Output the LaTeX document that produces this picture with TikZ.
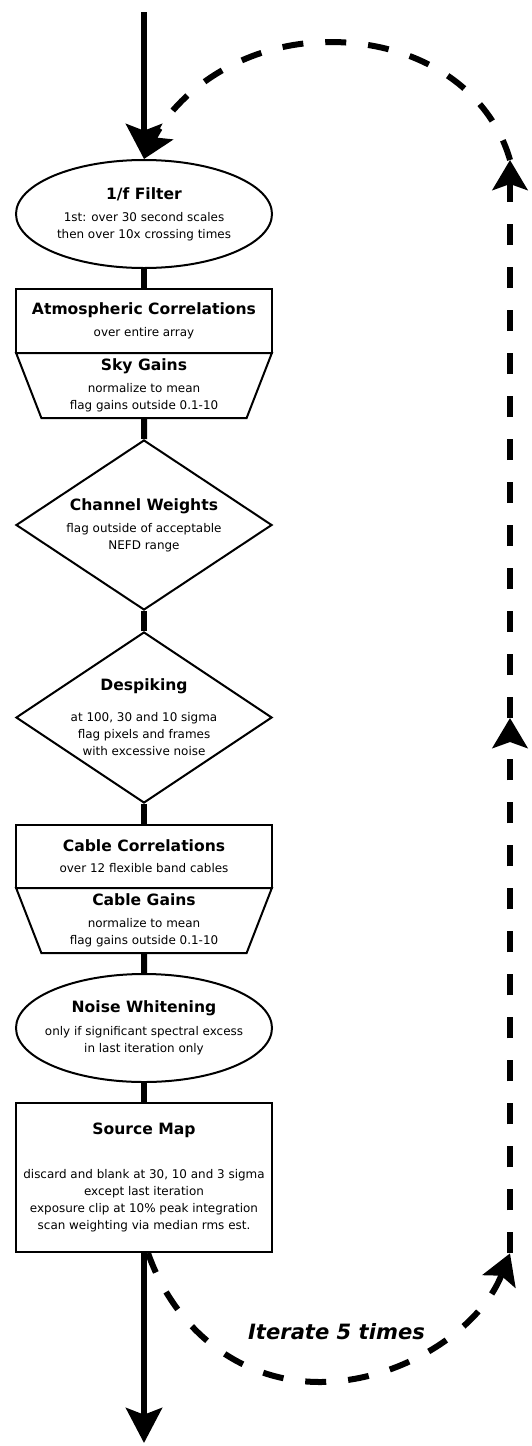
\documentclass[tikz,border=0pt]{standalone}
\usepackage{fontspec}
\setmainfont{DejaVu Sans}
\usetikzlibrary{shapes.geometric,arrows.meta}
\newcommand{\steptitle}[1]{{\fontsize{13.3pt}{14.5pt}\selectfont\bfseries #1}}

\tikzset{
  every node/.style={font=\fontsize{10.2pt}{14.5pt}\selectfont, align=center},
  procbox/.style={draw, line width=0.06cm, minimum width=7.68cm, inner sep=2pt},
  procoval/.style={procbox, ellipse, inner sep=-12pt, minimum height=3.24cm},
  procgain/.style={procbox, trapezium, trapezium left angle=72, trapezium right angle=72,
    shape border rotate=180, trapezium stretches=true, minimum height=1.95cm},
  procdiamond/.style={procbox, diamond, shape aspect=1.5, inner sep=-6pt},
  spine/.style={line width=0.18cm},
  iterline/.style={line width=0.18cm, dash pattern=on 0.63cm off 0.66cm},
  bigtip/.style={-{Stealth[length=1.05cm,width=1.08cm,inset=0.2cm]}},
  looptip/.style={-{Stealth[length=0.9cm,width=1.05cm,inset=0.18cm]}}
}

\begin{document}
\begin{tikzpicture}
  \useasboundingbox (0,0) rectangle (15.93,-43.38);

  \coordinate (in)  at (4.32,-0.36);
  \coordinate (out) at (4.32,-43.29);

  \node[procoval] (filter) at (4.32,-6.42)
    {\steptitle{1/f Filter}\\[4.3pt] 1st: over 30 second scales\\ then over 10x crossing times};
  \node[procbox, minimum height=1.92cm] (atmo) at (4.32,-9.63)
    {\steptitle{Atmospheric Correlations}\\[4.3pt] over entire array};
  \node[procgain] (sky) at (4.32,-11.565)
    {\steptitle{Sky Gains}\\[4.3pt] normalize to mean\\ flag gains outside 0.1-10};
  \node[procdiamond, minimum height=5.1cm] (weights) at (4.32,-15.75)
    {\steptitle{Channel Weights}\\[4.3pt] flag outside of acceptable\\ NEFD range};
  \node[procdiamond, minimum height=5.13cm] (despike) at (4.32,-21.525)
    {\steptitle{Despiking}\\[12pt] at 100, 30 and 10 sigma\\ flag pixels and frames\\ with excessive noise};
  \node[procbox, minimum height=1.89cm] (cable) at (4.32,-25.695)
    {\steptitle{Cable Correlations}\\[3.5pt] over 12 flexible band cables};
  \node[procgain] (cablegain) at (4.32,-27.615)
    {\steptitle{Cable Gains}\\[4.3pt] normalize to mean\\ flag gains outside 0.1-10};
  \node[procoval] (whiten) at (4.32,-30.84)
    {\steptitle{Noise Whitening}\\[4.8pt] only if significant spectral excess\\ in last iteration only};
  \node[procbox, minimum height=4.47cm] (srcmap) at (4.32,-35.325)
    {\steptitle{Source Map}\\[23pt] discard and blank at 30, 10 and 3 sigma\\ except last iteration\\
     exposure clip at 10\% peak integration\\ scan weighting via median rms est.};

  \draw[spine, bigtip] (in) -- (filter);
  \draw[spine] (filter) -- (atmo);
  \draw[spine] (sky) -- (weights);
  \draw[spine] (weights) -- (despike);
  \draw[spine] (despike) -- (cable);
  \draw[spine] (cablegain) -- (whiten);
  \draw[spine] (whiten) -- (srcmap);
  \draw[spine, bigtip] (srcmap) -- (out);

  \coordinate (rbot) at (15.3,-37.6);
  \coordinate (rmid) at (15.3,-21.54);
  \coordinate (rtop) at (15.3,-4.8);
  \draw[iterline, looptip] ([xshift=0.12cm]srcmap.south) .. controls (5.25,-39.9) and (7.2,-41.46) .. (9.6,-41.46)
    .. controls (12,-41.46) and (14.4,-39.9) .. (rbot);
  \draw[iterline, looptip] (rbot) -- (rmid);
  \draw[iterline, looptip] (rmid) -- (rtop);
  \draw[iterline, looptip] (rtop) .. controls (14.7,-2.7) and (12.6,-1.26) .. (9.9,-1.26)
    .. controls (7.2,-1.26) and (5.25,-2.85) .. (filter.north);

  \node[font=\fontsize{18pt}{20pt}\selectfont\bfseries\itshape] (iterlabel) at (10.095,-39.95) {Iterate 5 times};
\end{tikzpicture}
\end{document}
